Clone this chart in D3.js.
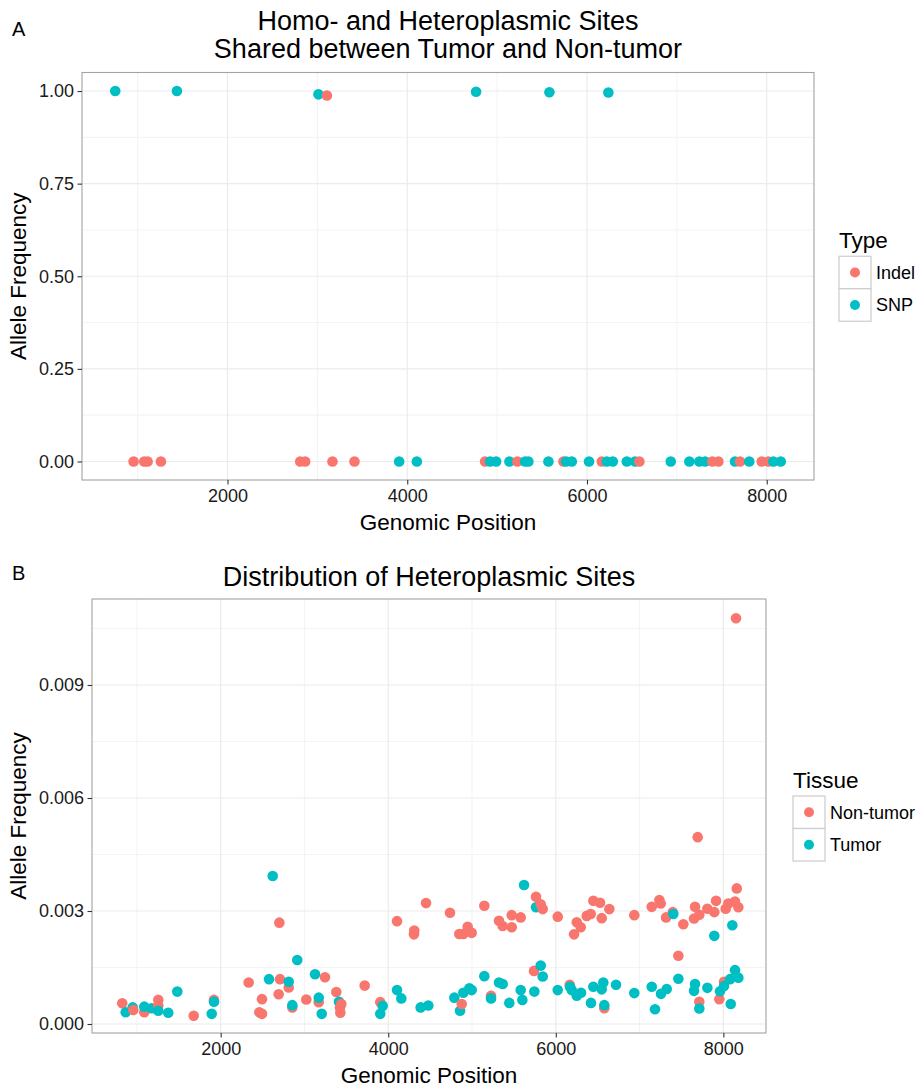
<!DOCTYPE html>
<html>
<head>
<meta charset="utf-8">
<script src="https://cdn.jsdelivr.net/npm/d3@7"></script>
<style>
  body { margin: 0; background: #fff; }
  text { font-family: "Liberation Sans", Arial, Helvetica, sans-serif; }
</style>
</head>
<body>
<svg id="chart" width="919" height="1088"></svg>
<script>
// ---- Panel A: sites shared between tumor and non-tumor ----
const indelPos = [955, 1073, 1111, 1259, 2809, 2864, 3106, 3168, 3413, 4866, 5226, 5738, 6165, 6583, 7395, 7462, 7703, 7944, 8018];
const indelAF  = [0, 0, 0, 0, 0, 0, 0.988, 0, 0, 0, 0, 0, 0, 0, 0, 0, 0, 0, 0];
const snpPos = [751, 1437, 3012, 4766, 5582, 6238, 3910, 4107, 4922, 4989, 5137, 5311, 5348, 5571, 5768, 5831, 6023, 6220, 6287, 6443, 6535, 6932, 7139, 7250, 7314, 7647, 7806, 8074, 8156];
const snpAF  = [1.0, 1.0, 0.991, 0.998, 0.9965, 0.996, 0, 0, 0, 0, 0, 0, 0, 0, 0, 0, 0, 0, 0, 0, 0, 0, 0, 0, 0, 0, 0, 0, 0];

// ---- Panel B: heteroplasmic sites by tissue ----
const nonTumorPos = [825, 957, 1088, 1255, 1255, 1678, 1920, 2334, 2493, 2461, 2493, 2700, 2708, 2692, 2812, 2855, 3022, 3245, 3170, 3380, 3440, 3424, 3428, 3719, 3905, 4105, 4311, 4307, 4451,
  4737, 5147, 4848, 4896, 4948, 4996, 5322, 5366, 5474, 5474, 5581, 5764, 5820, 5844, 6023, 6250, 6298, 6218, 6369, 6417, 6448, 6528, 6548, 6639, 6937, 7145, 7236, 7252, 7316, 7396, 7522, 7662, 7650, 7713, 7809, 7913, 7892, 8028, 8059, 8139, 8179, 8160, 7694, 7463, 5740, 4877, 5227, 6166, 6579, 7713, 7952, 8008, 8151];
const nonTumorAF = [0.00055, 0.00037, 0.00031, 0.00064, 0.00049, 0.00022, 0.00064, 0.0011, 0.00066, 0.00031, 0.00027, 0.00269, 0.00119, 0.00079, 0.00097, 0.00044, 0.00065, 0.00124, 0.00058, 0.00085, 0.00053, 0.00044, 0.0003, 0.00102, 0.00058, 0.00273, 0.00248, 0.00238, 0.00321,
  0.002955, 0.00314, 0.00239, 0.00239, 0.00258, 0.00242, 0.00274, 0.0026, 0.00257, 0.00289, 0.00283, 0.00338, 0.00318, 0.00305, 0.00285, 0.0027, 0.00257, 0.00238, 0.00287, 0.00292, 0.00327, 0.00322, 0.00281, 0.00305, 0.00289, 0.00311, 0.00329, 0.0032, 0.00283, 0.00297, 0.00265, 0.00311, 0.0028, 0.0029, 0.00306, 0.00327, 0.00297, 0.00306, 0.0032, 0.00325, 0.0031, 0.0036, 0.00496, 0.00181, 0.00141, 0.00053, 0.00075, 0.00104, 0.00042, 0.00059, 0.00066, 0.00112, 0.01077];
const tumorPos = [866, 950, 1088, 1176, 1255, 1374, 1482, 1893, 1920, 2621, 2577, 2812, 2855, 2914, 3126, 3170, 3206, 3412, 3934, 3905, 4105, 4156, 4387, 4478,
  4789, 4857, 4896, 4968, 4996, 5147, 5322, 5366, 5227, 5445, 5581, 5601, 5744, 5621, 5764, 5820, 5844, 6023, 6170, 6190, 6250, 6301, 6420, 6448, 6548, 6567, 6579, 6719, 6937, 7145, 7184, 7256, 7324, 7463, 7662, 7650, 7713, 7809, 7892, 7960, 8008, 8080, 8139, 8179, 8107, 8088, 7403];
const tumorAF = [0.00031, 0.00044, 0.00046, 0.00042, 0.00035, 0.0003, 0.00086, 0.00027, 0.00059, 0.00393, 0.00119, 0.00112, 0.0005, 0.0017, 0.00132, 0.0007, 0.00027, 0.00059, 0.00048, 0.00027, 0.0009, 0.00068, 0.00044, 0.00049,
  0.0007, 0.00035, 0.00083, 0.00095, 0.0009, 0.00127, 0.0011, 0.00106, 0.00068, 0.00056, 0.0009, 0.00064, 0.00086, 0.00369, 0.0031, 0.00155, 0.00126, 0.0009, 0.00099, 0.0009, 0.00075, 0.00083, 0.00056, 0.00099, 0.00092, 0.0011, 0.0005, 0.00104, 0.00082, 0.00099, 0.00039, 0.0008, 0.00093, 0.0012, 0.00106, 0.00088, 0.00041, 0.00096, 0.00234, 0.00087, 0.00101, 0.00119, 0.00143, 0.00123, 0.00262, 0.00053, 0.00292];

// ---- Axis ticks ----
const xTicks = [2000, 4000, 6000, 8000];
const xMinor = [1000, 3000, 5000, 7000];
const yTicksA = [0, 0.25, 0.5, 0.75, 1];
const yMinorA = [0.125, 0.375, 0.625, 0.875];
const yTicksB = [0, 0.003, 0.006, 0.009];
const yMinorB = [0.0015, 0.0045, 0.0075, 0.0105];

const RED = "#F8766D", TEAL = "#00BFC4";
const svg = d3.select("#chart");
svg.append("rect").attr("width", 919).attr("height", 1088).attr("fill", "#fff");

function drawPanel(cfg) {
  const g = svg.append("g");
  const x = d3.scaleLinear().domain(cfg.xDomain).range([cfg.left, cfg.right]);
  const y = d3.scaleLinear().domain(cfg.yDomain).range([cfg.bottom, cfg.top]);

  // grid
  const grid = g.append("g");
  grid.selectAll(".xmin").data(cfg.xMinor).join("line")
    .attr("x1", d => x(d)).attr("x2", d => x(d)).attr("y1", cfg.top).attr("y2", cfg.bottom)
    .attr("stroke", "#f4f4f4").attr("stroke-width", 1.1);
  grid.selectAll(".ymin").data(cfg.yMinor).join("line")
    .attr("y1", d => y(d)).attr("y2", d => y(d)).attr("x1", cfg.left).attr("x2", cfg.right)
    .attr("stroke", "#f4f4f4").attr("stroke-width", 1.1);
  grid.selectAll(".xmaj").data(cfg.xTicks).join("line")
    .attr("x1", d => x(d)).attr("x2", d => x(d)).attr("y1", cfg.top).attr("y2", cfg.bottom)
    .attr("stroke", "#ebebeb").attr("stroke-width", 1.2);
  grid.selectAll(".ymaj").data(cfg.yTicks).join("line")
    .attr("y1", d => y(d)).attr("y2", d => y(d)).attr("x1", cfg.left).attr("x2", cfg.right)
    .attr("stroke", "#ebebeb").attr("stroke-width", 1.2);

  // points, drawn in order of genomic position
  const pts = [];
  cfg.series.forEach((s, si) => s.pos.forEach((p, i) => pts.push({ p, v: s.af[i], c: s.color, si })));
  pts.sort((a, b) => a.p - b.p || a.si - b.si);
  g.append("g").selectAll("circle").data(pts).join("circle")
    .attr("cx", d => x(d.p)).attr("cy", d => y(d.v)).attr("r", 5.3).attr("fill", d => d.c);

  // panel border
  g.append("rect").attr("x", cfg.left).attr("y", cfg.top)
    .attr("width", cfg.right - cfg.left).attr("height", cfg.bottom - cfg.top)
    .attr("fill", "none").attr("stroke", "#a3a3a3").attr("stroke-width", 1.1);

  // axes
  const xa = g.append("g").attr("transform", `translate(0,${cfg.bottom})`)
    .call(d3.axisBottom(x).tickValues(cfg.xTicks).tickFormat(d3.format("d")).tickSize(4.5).tickPadding(5));
  const ya = g.append("g").attr("transform", `translate(${cfg.left},0)`)
    .call(d3.axisLeft(y).tickValues(cfg.yTicks).tickFormat(cfg.yFormat).tickSize(4.5).tickPadding(3.5));
  [xa, ya].forEach(a => {
    a.select(".domain").remove();
    a.selectAll(".tick line").attr("stroke", "#333").attr("stroke-width", 1.1);
    a.selectAll(".tick text").attr("fill", "#1a1a1a").style("font-size", "18px")
      .style("font-family", '"Liberation Sans", Arial, sans-serif');
  });

  // axis titles
  g.append("text").attr("x", (cfg.left + cfg.right) / 2).attr("y", cfg.bottom + 50)
    .attr("text-anchor", "middle").style("font-size", "22.5px").text("Genomic Position");
  g.append("text").attr("transform", `translate(26,${(cfg.top + cfg.bottom) / 2}) rotate(-90)`)
    .attr("text-anchor", "middle").style("font-size", "22.5px").text("Allele Frequency");

  // title
  cfg.title.forEach((t, i) => {
    g.append("text").attr("x", (cfg.left + cfg.right) / 2).attr("y", cfg.titleY + i * 28.5)
      .attr("text-anchor", "middle").style("font-size", "27px").text(t);
  });

  // panel tag
  g.append("text").attr("x", 12).attr("y", cfg.tagY).style("font-size", "20px").text(cfg.tag);

  // legend
  const lx = cfg.legendX, mid = (cfg.top + cfg.bottom) / 2;
  const ly = mid - 20;
  const lg = g.append("g");
  lg.append("text").attr("x", lx).attr("y", ly - 8).style("font-size", "22.5px").text(cfg.legendTitle);
  cfg.series.forEach((s, i) => {
    const by = ly + i * 32.5;
    lg.append("rect").attr("x", lx).attr("y", by).attr("width", 32).attr("height", 32.5)
      .attr("fill", "#fff").attr("stroke", "#cccccc").attr("stroke-width", 1.2);
    lg.append("circle").attr("cx", lx + 16).attr("cy", by + 16.25).attr("r", 5).attr("fill", s.color);
    lg.append("text").attr("x", lx + 37).attr("y", by + 16.25).attr("dy", "0.35em")
      .style("font-size", "18px").text(s.name);
  });
}

drawPanel({
  left: 82, right: 814, top: 72.5, bottom: 480,
  xDomain: [381, 8526], yDomain: [-0.05, 1.05],
  xTicks, xMinor, yTicks: yTicksA, yMinor: yMinorA, yFormat: d3.format(".2f"),
  series: [
    { name: "Indel", pos: indelPos, af: indelAF, color: RED },
    { name: "SNP", pos: snpPos, af: snpAF, color: TEAL }
  ],
  title: ["Homo- and Heteroplasmic Sites", "Shared between Tumor and Non-tumor"], titleY: 29.5,
  tag: "A", tagY: 36, legendTitle: "Type", legendX: 839
});

drawPanel({
  left: 92, right: 766, top: 599, bottom: 1033,
  xDomain: [464, 8509], yDomain: [-0.000239, 0.011283],
  xTicks, xMinor, yTicks: yTicksB, yMinor: yMinorB, yFormat: d3.format(".3f"),
  series: [
    { name: "Non-tumor", pos: nonTumorPos, af: nonTumorAF, color: RED },
    { name: "Tumor", pos: tumorPos, af: tumorAF, color: TEAL }
  ],
  title: ["Distribution of Heteroplasmic Sites"], titleY: 586,
  tag: "B", tagY: 580, legendTitle: "Tissue", legendX: 793
});
</script>
</body>
</html>
